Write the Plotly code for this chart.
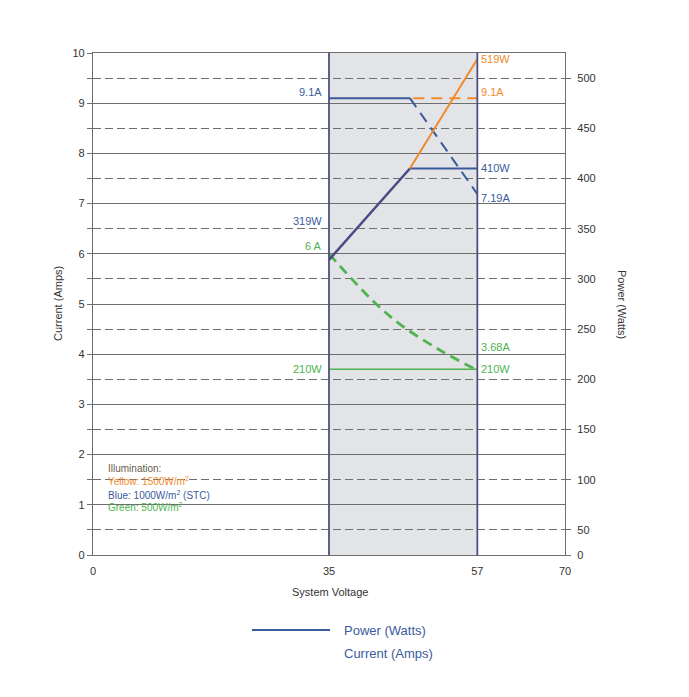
import plotly.graph_objects as go

# ---------------- data ----------------
band = [35, 57]                      # shaded operating window (V)
x_ticks = [0, 35, 57, 70]

# currents (A) vs system voltage (V)
blue_i_solid_v = [35, 47]
blue_i_solid_a = [9.1, 9.1]
blue_i_dash_v = [47, 57]
blue_i_dash_a = [9.1, 7.19]
orange_i_v = [47.5, 57]
orange_i_a = [9.1, 9.1]
green_i_v = [35, 41.6, 45.9, 51.6, 57]
green_i_a = [6.0, 5.05, 4.56, 4.07, 3.68]

# power (W) vs system voltage (V)
blue_p_rise_v = [35, 47]
blue_p_rise_w = [319, 410]
blue_p_flat_v = [47, 57]
blue_p_flat_w = [410, 410]
orange_p_v = [47, 57]
orange_p_w = [410, 519]
green_p_v = [35, 57]
green_p_w = [210, 210]

amp_ticks = [0, 1, 2, 3, 4, 5, 6, 7, 8, 9, 10]
watt_tickvals = [25, 50, 100, 150, 200, 250, 300, 350, 400, 450, 500]
watt_ticktext = ["0", "50", "100", "150", "200", "250", "300", "350", "400", "450", "500"]

BLUE = "#3b5b9d"
DARKBLUE = "#4a4a85"
ORANGE = "#f08a2c"
GREEN = "#4fb34f"
GRID = "#6e6e6e"
FONT = "Liberation Sans, Arial, sans-serif"

# figure geometry (page body adds an 8px offset)
L, T, PW, PH = 85, 45, 472, 502

def px(xp):
    return (xp - 8 - L) / PW

def py(yp):
    return (T + PH - (yp - 8)) / PH

fig = go.Figure()

# currents
fig.add_trace(go.Scatter(x=blue_i_solid_v, y=blue_i_solid_a, mode="lines",
                         line=dict(color=BLUE, width=2), showlegend=False))
fig.add_trace(go.Scatter(x=blue_i_dash_v, y=blue_i_dash_a, mode="lines",
                         line=dict(color=BLUE, width=2, dash="11px,7px"), showlegend=False))
fig.add_trace(go.Scatter(x=orange_i_v, y=orange_i_a, mode="lines",
                         line=dict(color=ORANGE, width=2, dash="11px,7px"), showlegend=False))
fig.add_trace(go.Scatter(x=green_i_v, y=green_i_a, mode="lines",
                         line=dict(color=GREEN, width=2.8, dash="10px,6px", shape="spline"),
                         showlegend=False))

# power (secondary axis)
fig.add_trace(go.Scatter(x=blue_p_rise_v, y=blue_p_rise_w, mode="lines", yaxis="y2",
                         line=dict(color=DARKBLUE, width=2.5), showlegend=False))
fig.add_trace(go.Scatter(x=blue_p_flat_v, y=blue_p_flat_w, mode="lines", yaxis="y2",
                         line=dict(color=BLUE, width=2), showlegend=False))
fig.add_trace(go.Scatter(x=orange_p_v, y=orange_p_w, mode="lines", yaxis="y2",
                         line=dict(color=ORANGE, width=2), showlegend=False))
fig.add_trace(go.Scatter(x=green_p_v, y=green_p_w, mode="lines", yaxis="y2",
                         line=dict(color=GREEN, width=1.5), showlegend=False))

shapes = [
    dict(type="rect", xref="x", yref="y", x0=band[0], x1=band[1], y0=0, y1=10,
         fillcolor="#e3e4e8", line=dict(width=0), layer="below"),
    dict(type="line", xref="x", yref="y", x0=band[0], x1=band[0], y0=0, y1=10,
         line=dict(color="#4c5080", width=1.8)),
    dict(type="line", xref="x", yref="y", x0=band[1], x1=band[1], y0=0, y1=10,
         line=dict(color="#4c5080", width=1.8)),
    # legend sample line
    dict(type="line", xref="paper", yref="paper", x0=px(252), x1=px(330),
         y0=py(630), y1=py(630), line=dict(color=BLUE, width=2)),
]

def ann(x, y, text, color, xanchor="left", yref="y", size=11):
    return dict(x=x, y=y, xref="x", yref=yref, text=text, showarrow=False,
                xanchor=xanchor, yanchor="middle",
                font=dict(family=FONT, size=size, color=color))

annotations = [
    ann(34.3, 9.22, "9.1A", BLUE, "right"),
    ann(34.3, 6.66, "319W", BLUE, "right"),
    ann(34.3, 6.16, "6 A", GREEN, "right"),
    ann(34.3, 210, "210W", GREEN, "right", yref="y2"),
    ann(57.3, 519, "519W", ORANGE, yref="y2"),
    ann(57.3, 9.22, "9.1A", ORANGE),
    ann(57.3, 410, "410W", BLUE, yref="y2"),
    ann(57.3, 7.12, "7.19A", BLUE),
    ann(57.3, 4.14, "3.68A", GREEN),
    ann(57.3, 210, "210W", GREEN, yref="y2"),
    # illumination key
    ann(2.0, 1.72, "Illumination:", "#6b5d50", size=10),
    ann(2.0, 1.47, "Yellow: 1500W/m<sup>2</sup>", ORANGE, size=10),
    ann(2.0, 1.20, "Blue: 1000W/m<sup>2</sup> (STC)", BLUE, size=10),
    ann(2.0, 0.95, "Green: 500W/m<sup>2</sup>", GREEN, size=10),
    # axis titles
    dict(x=px(58), y=0.5, xref="paper", yref="paper", text="Current (Amps)", showarrow=False,
         textangle=-90, xanchor="center", yanchor="middle",
         font=dict(family=FONT, size=11, color="#333")),
    dict(x=px(622), y=0.5, xref="paper", yref="paper", text="Power (Watts)", showarrow=False,
         textangle=90, xanchor="center", yanchor="middle",
         font=dict(family=FONT, size=11, color="#333")),
    dict(x=px(330), y=py(592), xref="paper", yref="paper",
         text="System Voltage", showarrow=False, xanchor="center", yanchor="middle",
         font=dict(family=FONT, size=11, color="#333")),
    # legend texts
    dict(x=px(342), y=py(630), xref="paper", yref="paper",
         text="Power (Watts)", showarrow=False, xanchor="left", yanchor="middle",
         font=dict(family=FONT, size=13, color=BLUE)),
    dict(x=px(342), y=py(653), xref="paper", yref="paper",
         text="Current (Amps)", showarrow=False, xanchor="left", yanchor="middle",
         font=dict(family=FONT, size=13, color=BLUE)),
]

fig.update_layout(
    width=681, height=689,
    margin=dict(l=L, r=681 - L - PW, t=T, b=689 - T - PH),
    paper_bgcolor="white", plot_bgcolor="white",
    font=dict(family=FONT, size=11, color="#333"),
    showlegend=False,
    shapes=shapes,
    annotations=annotations,
    xaxis=dict(range=[0, 70], tickvals=x_ticks, showgrid=False, zeroline=False,
               showline=True, linecolor=GRID, linewidth=1.3, mirror=True,
               ticks="", ticklabelstandoff=6, tickfont=dict(size=11, color="#333")),
    yaxis=dict(range=[0, 10], tickvals=amp_ticks, showgrid=True, gridcolor=GRID,
               gridwidth=1.3, zeroline=False, showline=True, linecolor=GRID, linewidth=1.3,
               ticks="outside", ticklen=5, tickcolor=GRID,
               tickfont=dict(size=11, color="#333"),
               minor=dict(dtick=0.5, tick0=0, showgrid=True, gridcolor=GRID, gridwidth=1.2,
                          griddash="8px,4px", ticks="outside", ticklen=5, tickcolor=GRID)),
    yaxis2=dict(range=[25, 525], overlaying="y", side="right", tickvals=watt_tickvals,
                ticktext=watt_ticktext, showgrid=False, zeroline=False, showline=True,
                linecolor=GRID, linewidth=1.3, ticks="outside", ticklen=5, tickcolor=GRID,
                ticklabelstandoff=4, tickfont=dict(size=11, color="#333")),
)

fig.write_html("out.html")
